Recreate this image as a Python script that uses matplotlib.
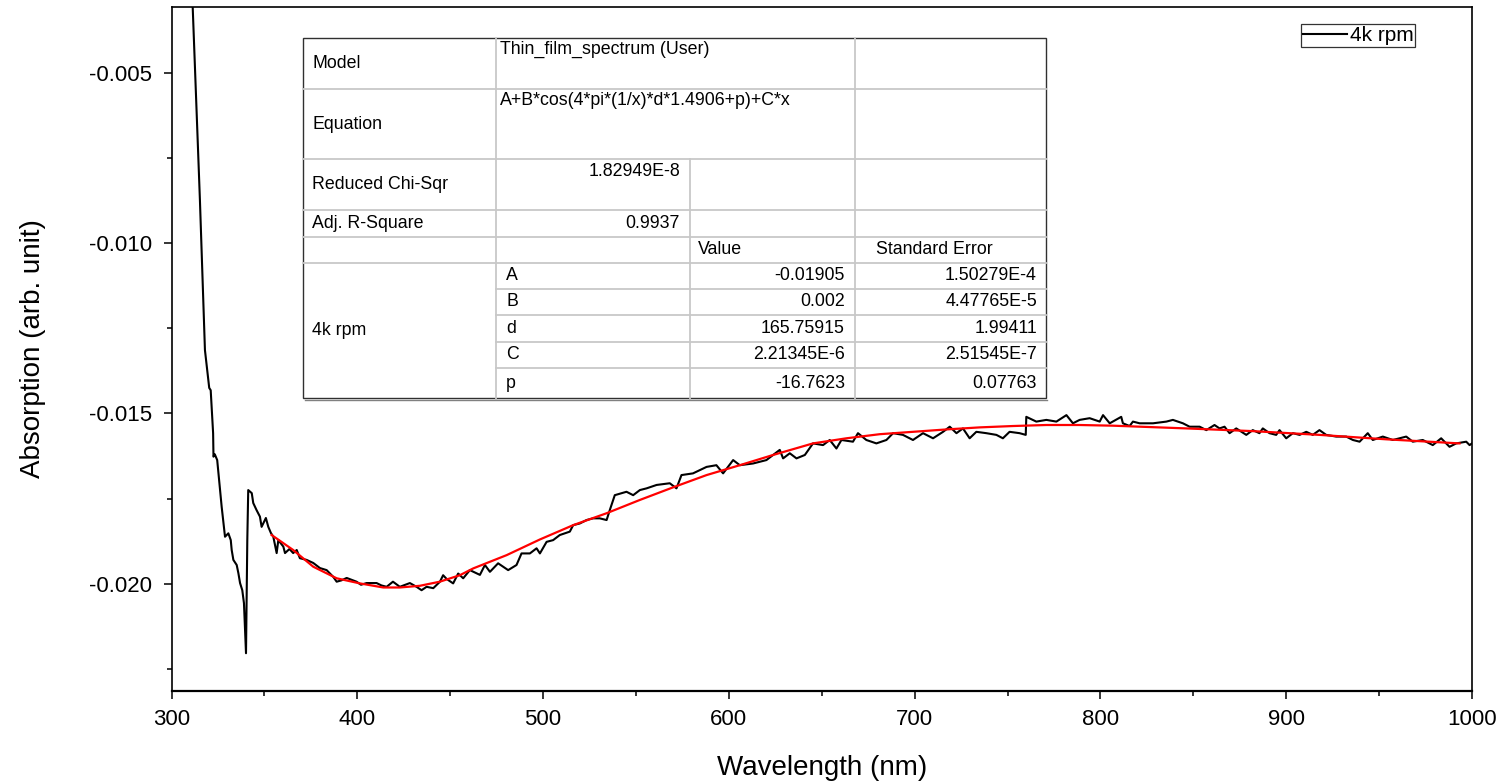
import matplotlib
matplotlib.use("Agg")
import matplotlib.pyplot as plt
from matplotlib.ticker import MultipleLocator, FormatStrFormatter
from matplotlib.patches import Rectangle
from matplotlib.lines import Line2D

plt.rcParams['font.family'] = ['Liberation Sans', 'DejaVu Sans']
plt.rcParams['axes.unicode_minus'] = False

wl = [310.8, 311.4, 315.3, 318.0, 320.3, 321.1, 322.4, 322.6, 323.3, 324.6,
      327.0, 328.8, 330.6, 331.9, 332.4, 333.3, 335.1, 336.0, 336.9, 338.1,
      339.0, 340.1, 340.8, 341.3, 343.2, 344.0, 345.8, 347.6, 348.5, 350.8,
      352.1, 353.5, 354.8, 356.6, 357.5, 360.2, 361.1, 363.5, 365.5, 367.4,
      369.1, 372.7, 376.3, 379.9, 383.5, 387.1, 388.9, 391.5, 394.3, 399.6,
      402.0, 405.0, 410.4, 413.0, 415.8, 419.2, 422.9, 428.3, 431.9, 434.6,
      437.3, 440.9, 444.5, 446.2, 448.1, 451.6, 454.3, 457.0, 460.6, 466.0,
      468.7, 471.4, 475.8, 481.2, 485.7, 488.4, 492.9, 496.5, 498.3, 501.9,
      505.4, 509.0, 514.4, 516.2, 519.8, 523.4, 526.9, 530.5, 534.2, 535.9,
      538.6, 544.9, 548.5, 552.1, 555.7, 561.1, 568.2, 571.8, 574.5, 580.7,
      588.0, 593.3, 596.9, 602.3, 605.9, 613.0, 620.2, 627.4, 629.2, 632.8,
      636.4, 640.9, 645.3, 650.7, 654.3, 657.9, 660.6, 666.8, 669.5, 674.0,
      679.4, 684.8, 688.4, 693.7, 699.1, 704.5, 709.9, 715.3, 718.9, 722.5,
      726.0, 729.6, 733.2, 738.6, 744.0, 747.5, 751.1, 756.5, 759.8, 760.1,
      765.5, 770.9, 776.3, 781.7, 785.2, 788.8, 794.2, 799.6, 801.4, 805.0,
      811.2, 812.1, 815.7, 817.5, 821.1, 828.3, 835.5, 839.0, 844.4, 848.0,
      853.4, 857.0, 861.4, 864.1, 866.8, 869.5, 873.1, 878.5, 882.0, 885.6,
      887.4, 891.0, 894.6, 896.4, 900.0, 903.6, 907.2, 910.8, 914.3, 917.9,
      921.5, 926.9, 932.3, 935.9, 939.5, 943.9, 946.6, 952.0, 957.4, 964.6,
      968.1, 973.5, 978.9, 983.4, 987.9, 991.5, 996.9, 998.7, 1000.0]
absorb = [-0.00220, -0.00306, -0.00874, -0.01314, -0.01425, -0.01432, -0.01558, -0.01627, -0.01620, -0.01637,
          -0.01774, -0.01862, -0.01852, -0.01872, -0.01901, -0.01930, -0.01945, -0.01969, -0.01998, -0.02019,
          -0.02057, -0.02204, -0.01872, -0.01725, -0.01734, -0.01763, -0.01784, -0.01803, -0.01833, -0.01807,
          -0.01833, -0.01851, -0.01862, -0.01910, -0.01872, -0.01891, -0.01910, -0.01898, -0.01910, -0.01901,
          -0.01925, -0.01930, -0.01939, -0.01954, -0.01960, -0.01980, -0.01994, -0.01990, -0.01983, -0.01994,
          -0.02003, -0.01998, -0.01998, -0.02005, -0.02009, -0.01994, -0.02009, -0.01998, -0.02009, -0.02019,
          -0.02009, -0.02013, -0.01994, -0.01975, -0.01986, -0.01999, -0.01970, -0.01984, -0.01960, -0.01974,
          -0.01945, -0.01965, -0.01940, -0.01960, -0.01945, -0.01911, -0.01911, -0.01896, -0.01911, -0.01877,
          -0.01872, -0.01857, -0.01847, -0.01828, -0.01823, -0.01813, -0.01808, -0.01808, -0.01813, -0.01784,
          -0.01740, -0.01730, -0.01740, -0.01725, -0.01720, -0.01710, -0.01705, -0.01720, -0.01681, -0.01676,
          -0.01657, -0.01652, -0.01676, -0.01637, -0.01652, -0.01647, -0.01637, -0.01607, -0.01632, -0.01617,
          -0.01632, -0.01622, -0.01588, -0.01593, -0.01578, -0.01603, -0.01578, -0.01583, -0.01558, -0.01578,
          -0.01588, -0.01578, -0.01558, -0.01563, -0.01578, -0.01558, -0.01573, -0.01554, -0.01539, -0.01558,
          -0.01544, -0.01573, -0.01554, -0.01558, -0.01563, -0.01573, -0.01554, -0.01558, -0.01563, -0.01510,
          -0.01524, -0.01519, -0.01524, -0.01505, -0.01529, -0.01519, -0.01514, -0.01524, -0.01505, -0.01529,
          -0.01510, -0.01529, -0.01537, -0.01524, -0.01529, -0.01529, -0.01524, -0.01519, -0.01529, -0.01539,
          -0.01539, -0.01549, -0.01534, -0.01544, -0.01539, -0.01558, -0.01544, -0.01563, -0.01549, -0.01558,
          -0.01544, -0.01558, -0.01563, -0.01549, -0.01573, -0.01558, -0.01563, -0.01554, -0.01563, -0.01549,
          -0.01563, -0.01568, -0.01568, -0.01578, -0.01583, -0.01558, -0.01578, -0.01568, -0.01578, -0.01568,
          -0.01583, -0.01578, -0.01593, -0.01573, -0.01598, -0.01588, -0.01583, -0.01593, -0.01588]

# fitted curve
fit_wl = [353.9, 365.5, 376.3, 388.9, 401.4, 414.0, 422.9, 433.7, 444.4, 455.2,
          462.4, 480.4, 498.3, 516.2, 534.2, 552.1, 570.0, 588.0, 605.9, 623.8,
          645.3, 663.3, 681.2, 699.1, 717.1, 735.0, 752.9, 770.9, 788.8, 806.7,
          846.2, 882.1, 917.9, 953.8, 993.3]
fit_abs = [-0.01857, -0.01901, -0.01950, -0.01984, -0.01999, -0.02011, -0.02011, -0.02006, -0.01994, -0.01975,
           -0.01955, -0.01916, -0.01870, -0.01828, -0.01793, -0.01754, -0.01717, -0.01681, -0.01652, -0.01622,
           -0.01588, -0.01573, -0.01561, -0.01554, -0.01547, -0.01541, -0.01537, -0.01534, -0.01534, -0.01536,
           -0.01544, -0.01552, -0.01563, -0.01576, -0.01588]

# fit report
model_name = "Thin_film_spectrum (User)"
equation = "A+B*cos(4*pi*(1/x)*d*1.4906+p)+C*x"
chi_sqr = "1.82949E-8"
adj_r2 = "0.9937"
sample = "4k rpm"
param_names = ['A', 'B', 'd', 'C', 'p']
param_values = ['-0.01905', '0.002', '165.75915', '2.21345E-6', '-16.7623']
param_errors = ['1.50279E-4', '4.47765E-5', '1.99411', '2.51545E-7', '0.07763']

W, H = 1501, 783
fig = plt.figure(figsize=(W / 100, H / 100), dpi=100)
ax = fig.add_axes([171.5 / W, 1 - 690.7 / H, (1472 - 171.5) / W, (690.7 - 6.7) / H])

ax.plot(wl, absorb, color='black', lw=1.5, label=sample)
ax.plot(fit_wl, fit_abs, color='#ff0000', lw=1.6)

ax.set_xlim(300, 1000)
ax.set_ylim(-0.02314, -0.00306)
ax.xaxis.set_major_locator(MultipleLocator(100))
ax.xaxis.set_minor_locator(MultipleLocator(50))
ax.yaxis.set_major_locator(MultipleLocator(0.005))
ax.yaxis.set_minor_locator(MultipleLocator(0.0025))
ax.yaxis.set_major_formatter(FormatStrFormatter('%.3f'))
ax.tick_params(which='major', direction='out', length=6, width=1.1, labelsize=16)
ax.tick_params(which='minor', direction='out', length=3.5, width=1.1)
ax.tick_params(axis='x', which='major', pad=7)
ax.tick_params(axis='y', which='major', pad=8)
for s in ax.spines.values():
    s.set_linewidth(1.2)
ax.spines['bottom'].set_linewidth(1.6)

ax.set_xlabel("Wavelength (nm)", fontsize=20, labelpad=18)
ax.set_ylabel("Absorption (arb. unit)", fontsize=20, labelpad=31)

leg = ax.legend(loc='upper left', bbox_to_anchor=((1300.7 - 171.5) / 1300.5, 1 - (24 - 6.7) / 684),
                fontsize=15, frameon=True, fancybox=False, handlelength=2.1,
                handletextpad=0.15, borderpad=0.1, borderaxespad=0)
leg.get_frame().set_edgecolor('black')
leg.get_frame().set_linewidth(0.9)

# fit report table drawn in pixel coordinates on an overlay
ov = fig.add_axes([0, 0, 1, 1], zorder=5)
ov.set_xlim(0, W)
ov.set_ylim(H, 0)
ov.axis('off')
ov.patch.set_visible(False)

cols = [302.5, 496, 690, 855, 1046]
rows = [38.3, 89.3, 159.3, 210, 236.5, 262.5, 288.5, 315, 341.5, 368, 398.5]
grid = '#c8c8c8'

ov.add_patch(Rectangle((cols[0], rows[0]), cols[4] - cols[0], rows[10] - rows[0],
                       facecolor='white', edgecolor='none'))
for y in rows[1:6]:
    ov.add_line(Line2D([cols[0], cols[4]], [y, y], color=grid, lw=1.3))
for y in rows[6:10]:
    ov.add_line(Line2D([cols[1], cols[4]], [y, y], color=grid, lw=1.3))
ov.add_line(Line2D([cols[1], cols[1]], [rows[0], rows[10]], color=grid, lw=1.3))
ov.add_line(Line2D([cols[3], cols[3]], [rows[0], rows[10]], color=grid, lw=1.3))
ov.add_line(Line2D([cols[2], cols[2]], [rows[2], rows[10]], color=grid, lw=1.3))
ov.add_patch(Rectangle((cols[0], rows[0]), cols[4] - cols[0], rows[10] - rows[0],
                       facecolor='none', edgecolor='#303030', lw=1.0))
ov.add_line(Line2D([cols[0] + 2, cols[4] + 1], [rows[10] + 1.2, rows[10] + 1.2], color='#808080', lw=1.0))

fs = 12.8
tx = 312.5
ov.text(tx, (rows[0] + rows[1]) / 2, "Model", fontsize=fs, va='center')
ov.text(cols[1] + 4, 41, model_name, fontsize=fs, va='top')
ov.text(tx, (rows[1] + rows[2]) / 2, "Equation", fontsize=fs, va='center')
ov.text(cols[1] + 4, 92, equation, fontsize=fs, va='top')
ov.text(tx, (rows[2] + rows[3]) / 2, "Reduced Chi-Sqr", fontsize=fs, va='center')
ov.text(680, 163, chi_sqr, fontsize=fs, va='top', ha='right')
ov.text(tx, (rows[3] + rows[4]) / 2, "Adj. R-Square", fontsize=fs, va='center')
ov.text(680, (rows[3] + rows[4]) / 2, adj_r2, fontsize=fs, va='center', ha='right')
ov.text(698, (rows[4] + rows[5]) / 2, "Value", fontsize=fs, va='center')
ov.text(876, (rows[4] + rows[5]) / 2, "Standard Error", fontsize=fs, va='center')
ov.text(tx, (rows[5] + rows[10]) / 2, sample, fontsize=fs, va='center')
for i, (n, v, e) in enumerate(zip(param_names, param_values, param_errors)):
    yc = (rows[5 + i] + rows[6 + i]) / 2
    ov.text(506, yc, n, fontsize=fs, va='center')
    ov.text(845, yc, v, fontsize=fs, va='center', ha='right')
    ov.text(1037, yc, e, fontsize=fs, va='center', ha='right')

fig.savefig("out.png", dpi=100)
